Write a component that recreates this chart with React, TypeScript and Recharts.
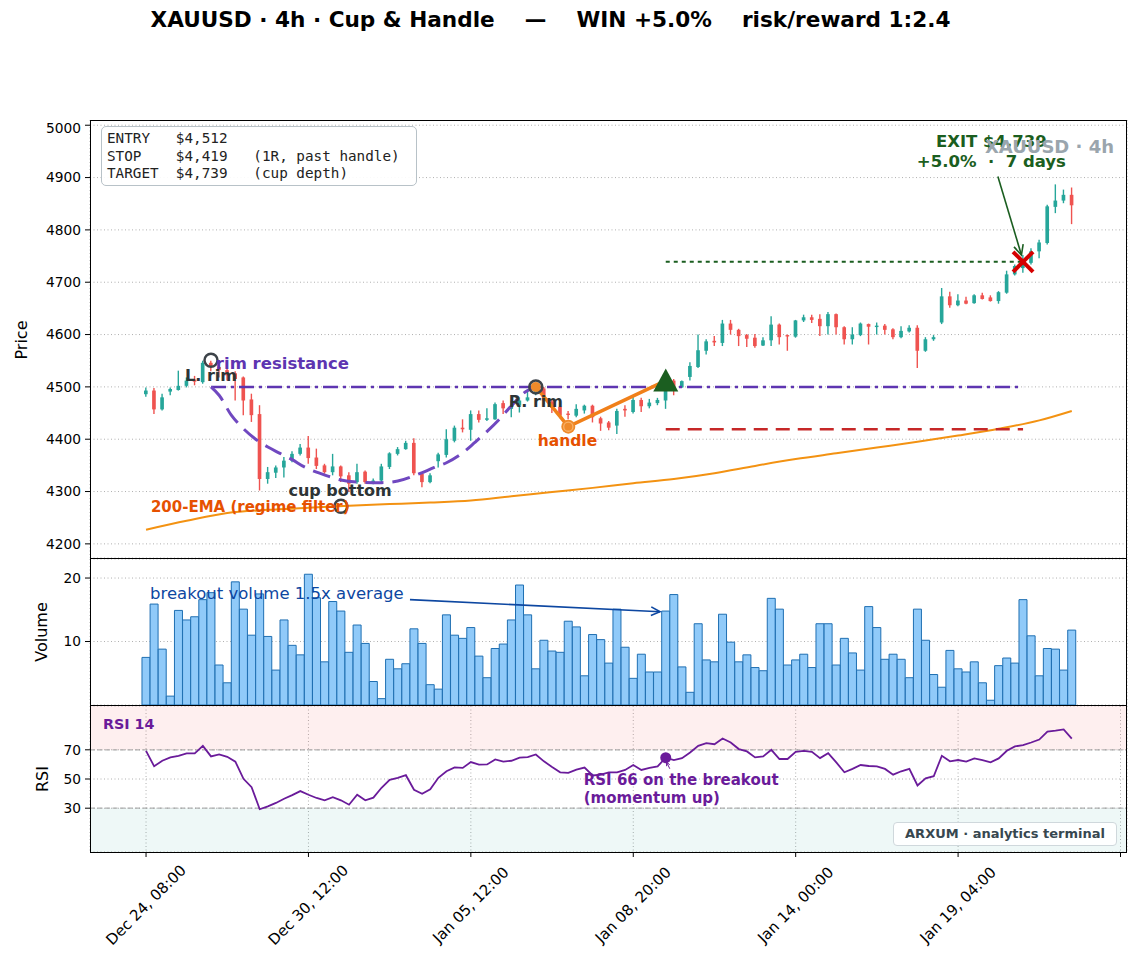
import React from 'react';
import {
  ComposedChart, Bar, Line, XAxis, YAxis, CartesianGrid,
  ReferenceLine, ReferenceDot, ReferenceArea,
} from 'recharts';

// ---- data (index = 4h bar number) ----
const opens = [
  4486, 4493, 4457, 4491, 4494, 4502, 4514, 4509, 4546, 4538, 4532, 4526, 4518, 4476, 4448, 4324, 4336, 4346, 4359, 4372,
  4384, 4365, 4350, 4337, 4348, 4331, 4318, 4338, 4317, 4321, 4347, 4372, 4381, 4393, 4334, 4318, 4358, 4370, 4397, 4422,
  4418, 4448, 4437, 4438, 4469, 4458, 4464, 4474, 4487, 4497, 4472, 4462, 4449, 4445, 4455, 4464, 4440, 4432, 4426, 4458,
  4452, 4475, 4463, 4469, 4474, 4512, 4499, 4519, 4538, 4569, 4588, 4584, 4621, 4609, 4599, 4594, 4579, 4589, 4619, 4599,
  4596, 4627, 4633, 4630, 4616, 4639, 4614, 4591, 4599, 4620, 4615, 4617, 4610, 4595, 4606, 4613, 4569, 4591, 4623, 4673,
  4656, 4665, 4660, 4675, 4671, 4664, 4680, 4715, 4727, 4737, 4759, 4775, 4844, 4856, 4867,
];
const highs = [
  4499, 4498, 4487, 4499, 4531, 4518, 4521, 4550, 4550, 4541, 4536, 4530, 4520, 4487, 4465, 4347, 4350, 4366, 4377, 4391,
  4406, 4382, 4353, 4372, 4350, 4337, 4353, 4340, 4325, 4353, 4375, 4385, 4397, 4402, 4337, 4335, 4374, 4419, 4426, 4438,
  4455, 4455, 4459, 4470, 4474, 4474, 4480, 4496, 4502, 4500, 4476, 4464, 4454, 4467, 4466, 4466, 4443, 4435, 4458, 4465,
  4484, 4479, 4477, 4479, 4496, 4515, 4512, 4547, 4600, 4591, 4597, 4628, 4628, 4611, 4601, 4601, 4595, 4635, 4621, 4600,
  4628, 4638, 4638, 4639, 4643, 4640, 4616, 4614, 4623, 4621, 4623, 4620, 4612, 4616, 4618, 4618, 4595, 4599, 4689, 4682,
  4677, 4672, 4677, 4680, 4675, 4683, 4722, 4734, 4752, 4765, 4781, 4848, 4887, 4877, 4881,
];
const lows = [
  4481, 4448, 4455, 4484, 4493, 4499, 4503, 4506, 4530, 4518, 4512, 4474, 4446, 4433, 4302, 4315, 4326, 4327, 4356, 4369,
  4353, 4343, 4334, 4331, 4318, 4299, 4315, 4315, 4314, 4318, 4343, 4369, 4380, 4331, 4308, 4316, 4346, 4365, 4394, 4413,
  4397, 4432, 4435, 4437, 4448, 4442, 4451, 4472, 4484, 4467, 4450, 4440, 4438, 4442, 4449, 4432, 4416, 4417, 4410, 4443,
  4449, 4452, 4459, 4465, 4458, 4484, 4498, 4512, 4536, 4562, 4578, 4578, 4600, 4578, 4576, 4575, 4578, 4578, 4581, 4569,
  4594, 4624, 4622, 4597, 4600, 4600, 4581, 4581, 4597, 4581, 4600, 4600, 4591, 4593, 4604, 4536, 4567, 4588, 4620, 4651,
  4654, 4658, 4659, 4667, 4663, 4659, 4678, 4713, 4718, 4734, 4746, 4772, 4832, 4851, 4811,
];
const closes = [
  4493, 4457, 4480, 4496, 4502, 4512, 4510, 4546, 4538, 4532, 4522, 4515, 4474, 4446, 4324, 4337, 4346, 4359, 4372, 4384,
  4364, 4349, 4337, 4348, 4329, 4315, 4337, 4318, 4321, 4348, 4373, 4381, 4393, 4335, 4318, 4331, 4371, 4400, 4422, 4419,
  4448, 4437, 4440, 4467, 4459, 4463, 4474, 4480, 4499, 4474, 4460, 4445, 4447, 4458, 4464, 4442, 4430, 4422, 4454, 4455,
  4475, 4463, 4470, 4475, 4493, 4499, 4511, 4540, 4570, 4587, 4585, 4621, 4609, 4597, 4592, 4578, 4589, 4619, 4595, 4597,
  4627, 4633, 4628, 4616, 4639, 4614, 4591, 4600, 4621, 4615, 4617, 4609, 4595, 4607, 4613, 4569, 4591, 4595, 4673, 4656,
  4665, 4659, 4675, 4668, 4664, 4681, 4715, 4731, 4742, 4759, 4776, 4845, 4856, 4867, 4847,
];
const volumes = [
  7.5, 15.9, 8.8, 1.4, 14.9, 13.4, 13.9, 16.6, 17.7, 6.3, 3.5, 19.4, 15.1, 11.0, 17.5, 10.8, 5.5, 13.4, 9.4, 7.9,
  20.6, 16.9, 6.8, 16.3, 14.8, 8.3, 12.6, 9.7, 3.7, 1.0, 7.2, 5.7, 6.5, 12.0, 9.7, 3.2, 2.5, 14.2, 11.0, 10.5,
  12.2, 7.7, 4.3, 8.9, 9.6, 13.4, 18.9, 14.2, 5.7, 10.2, 8.5, 8.3, 13.2, 12.3, 4.6, 11.1, 10.3, 6.6, 15.1, 9.1,
  4.2, 8.0, 5.2, 5.2, 14.8, 17.4, 6.0, 2.0, 12.8, 7.1, 6.8, 14.3, 9.9, 6.8, 7.9, 5.9, 5.4, 16.8, 15.1, 6.3,
  7.1, 8.0, 5.9, 12.8, 12.8, 6.3, 10.5, 8.2, 5.5, 15.5, 12.2, 7.2, 8.0, 7.2, 4.3, 15.1, 10.2, 4.8, 2.8, 8.6,
  5.7, 5.2, 6.8, 3.5, 0.75, 6.2, 7.4, 6.6, 16.6, 10.9, 4.6, 8.9, 8.8, 5.5, 11.8,
];
const rsi14 = [
  69.3, 58.7, 62.5, 64.8, 65.9, 67.5, 67.5, 72.7, 65.5, 66.8, 65.2, 61.9, 50.1, 44.4, 29.3, 31.3, 33.6, 36.5, 39.0, 41.7,
  39.2, 37.0, 35.4, 37.6, 35.4, 32.4, 39.2, 35.4, 37.2, 44.0, 49.4, 50.8, 52.6, 42.6, 39.9, 42.9, 50.8, 55.3, 58.0, 57.6,
  61.6, 59.8, 60.0, 63.4, 61.9, 62.5, 64.6, 65.0, 66.8, 62.1, 58.2, 54.6, 54.2, 56.4, 57.8, 52.4, 53.0, 54.6, 54.6, 56.2,
  59.6, 56.2, 57.6, 58.7, 64.6, 63.0, 64.3, 68.2, 72.7, 74.5, 73.8, 77.7, 75.0, 70.5, 68.9, 64.8, 65.5, 70.0, 63.7, 63.7,
  68.6, 69.3, 68.6, 64.3, 67.7, 61.4, 54.6, 56.9, 59.6, 58.9, 58.7, 56.9, 53.0, 55.3, 56.9, 45.6, 50.5, 51.9, 65.9, 62.1,
  63.0, 61.9, 64.1, 63.0, 61.4, 64.1, 69.3, 72.3, 73.2, 75.0, 77.0, 82.4, 83.1, 84.0, 77.7,
];
const emaIdx = [0, 5, 10, 15, 20, 25, 30, 35, 40, 45, 50, 55, 60, 65, 70, 75, 80, 85, 90, 95, 100, 105, 110, 114];
const emaVals = [4227, 4244, 4259, 4265, 4269, 4273, 4276, 4279, 4283, 4291, 4299, 4307, 4316, 4324, 4335, 4349, 4362, 4373, 4384, 4395, 4407, 4420, 4436, 4454];
const cupIdx = [8, 9, 10.5, 12, 13.5, 15, 16.5, 18, 19.5, 21, 22.5, 24, 26, 28, 29, 31, 33.5, 35.5, 37, 39, 40.5, 42, 43.5, 45, 46.5, 48];
const cupVals = [4500, 4484, 4446, 4420, 4400, 4385, 4373, 4361, 4347, 4337, 4329, 4322, 4318, 4317, 4317, 4320, 4333, 4346, 4355, 4374, 4394, 4415, 4438, 4464, 4488, 4500];
const handleIdx = [48, 52, 64];
const handleVals = [4500, 4424, 4512];
const xTicks = [0, 20, 40, 60, 80, 100, 120];
const tickLabels = ['Dec 24, 08:00', 'Dec 30, 12:00', 'Jan 05, 12:00', 'Jan 08, 20:00', 'Jan 14, 00:00', 'Jan 19, 04:00', ''];
const priceTicks = [4200, 4300, 4400, 4500, 4600, 4700, 4800, 4900, 5000];

const ENTRY = { i: 64, p: 4512 };
const EXIT = { i: 108, p: 4739 };
const STOP = 4419;
const TARGET = 4739;
const RIM = 4500;

const X_DOMAIN: [number, number] = [-6.9, 120.8];
const W = 1139;
const FONT = 'DejaVu Sans, sans-serif';
const UP = '#26a69a';
const DOWN = '#ef5350';

const Candle = (props: any) => {
  const { x, y, width, height, payload } = props;
  const { o, h, l, c } = payload;
  const col = c >= o ? UP : DOWN;
  const k = height / (h - l || 1);
  const py = (v: number) => y + (h - v) * k;
  const cx = x + width / 2;
  const top = py(Math.max(o, c));
  const bot = py(Math.min(o, c));
  return (
    <g>
      <line x1={cx} x2={cx} y1={y} y2={y + height} stroke={col} strokeWidth={1.4} />
      <rect x={x} y={top} width={width} height={Math.max(bot - top, 1.4)} fill={col} />
    </g>
  );
};

const label = (lines: string[], color: string, size: number, anchor: 'start' | 'middle' | 'end' = 'middle', weight = 700) =>
  (p: any) => (
    <text x={p.cx} y={p.cy} fill={color} fontSize={size} fontWeight={weight} fontFamily={FONT}
      textAnchor={anchor} style={{ whiteSpace: 'pre' }}>
      {lines.map((s, k) => (
        <tspan key={k} x={p.cx} dy={k === 0 ? `${0.35 - (lines.length - 1) * 0.6}em` : '1.2em'}>{s}</tspan>
      ))}
    </text>
  );

const ring = (p: any) => <circle cx={p.cx} cy={p.cy} r={6.5} fill="none" stroke="#3d4349" strokeWidth={2.5} />;

const triangle = (p: any) => (
  <polygon points={`${p.cx},${p.cy - 12} ${p.cx - 12.5},${p.cy + 11} ${p.cx + 12.5},${p.cy + 11}`} fill="#1b5e20" />
);

const cross = (p: any) => (
  <g stroke="#d50000" strokeWidth={4}>
    <line x1={p.cx - 10} y1={p.cy - 10} x2={p.cx + 10} y2={p.cy + 10} />
    <line x1={p.cx - 10} y1={p.cy + 10} x2={p.cx + 10} y2={p.cy - 10} />
  </g>
);

const arrow = (color: string, width: number, head = 10) => (p: any) => {
  const { x1, y1, x2, y2 } = p;
  const a = Math.atan2(y2 - y1, x2 - x1);
  const s = 0.45;
  const hx1 = x2 - head * Math.cos(a - s), hy1 = y2 - head * Math.sin(a - s);
  const hx2 = x2 - head * Math.cos(a + s), hy2 = y2 - head * Math.sin(a + s);
  return (
    <g stroke={color} strokeWidth={width} fill="none">
      <line x1={x1} y1={y1} x2={x2} y2={y2} />
      <polyline points={`${hx1},${hy1} ${x2},${y2} ${hx2},${hy2}`} />
    </g>
  );
};

const handleDot = (p: any) => {
  const { cx, cy, index } = p;
  if (index === 1) {
    return (
      <g key={`hd${index}`}>
        <circle cx={cx} cy={cy} r={7} fill="#ef8a2a" />
        <circle cx={cx} cy={cy} r={4.6} fill="none" stroke="#f8b26a" strokeWidth={1.3} />
      </g>
    );
  }
  if (index === 0) return <circle key={`hd${index}`} cx={cx} cy={cy} r={5} fill="#ef8a2a" />;
  return <g key={`hd${index}`} />;
};

// tick labels rotated 45°, centred under the tick
const XTick = (p: any) => {
  const { x, y, payload } = p;
  const t = tickLabels[xTicks.indexOf(payload.value)] || '';
  return (
    <text x={0} y={0} transform={`translate(${x},${y + 44}) rotate(-45)`} textAnchor="middle" dominantBaseline="central"
      fontSize={15} fontFamily={FONT} fill="#000">{t}</text>
  );
};

const yTick = { fontSize: 13.75, fill: '#000', fontFamily: FONT };
const grid = <CartesianGrid stroke="#b0b0b0" strokeDasharray="1 2.5" />;
const frame = (top: number, h: number): React.CSSProperties => ({
  position: 'absolute', left: 90, top, width: 1037, height: h, border: '1px solid #000',
  boxSizing: 'border-box', pointerEvents: 'none',
});

export default function App() {
  const candles = opens.map((o, i) => ({ i, o, h: highs[i], l: lows[i], c: closes[i], v: volumes[i], r: rsi14[i] }));
  const ema = emaIdx.map((i, k) => ({ i, p: emaVals[k] }));
  const cup = cupIdx.map((i, k) => ({ i, p: cupVals[k] }));
  const handle = handleIdx.map((i, k) => ({ i, p: handleVals[k] }));

  const xAxisHidden = (
    <XAxis type="number" dataKey="i" domain={X_DOMAIN} ticks={xTicks} allowDataOverflow
      height={0} tick={false} axisLine={false} tickLine={false} />
  );

  return (
    <div style={{ position: 'absolute', left: 0, top: 0, width: W, height: 971, background: '#fff', fontFamily: FONT, overflow: 'hidden' }}>
      <div style={{ position: 'absolute', top: 7, left: 0, width: 1101, textAlign: 'center', fontSize: 21.6, fontWeight: 700, whiteSpace: 'pre', color: '#000' }}>
        {'XAUUSD · 4h · Cup & Handle    —    WIN +5.0%    risk/reward 1:2.4'}
      </div>

      {/* price panel */}
      <div style={{ position: 'absolute', left: 0, top: 120 }}>
        <ComposedChart width={W} height={438} data={candles} margin={{ top: 0, right: 12, bottom: 0, left: 0 }}>
          {grid}
          {xAxisHidden}
          <YAxis type="number" domain={[4173, 5010]} ticks={priceTicks} allowDataOverflow width={90}
            tick={yTick} tickSize={5} tickMargin={4} axisLine={false} tickLine={{ stroke: '#000' }} />
          <Line data={ema} dataKey="p" type="monotone" stroke="#f39212" strokeWidth={2} dot={false} activeDot={false} isAnimationActive={false} />
          <ReferenceLine segment={[{ x: 8, y: RIM }, { x: EXIT.i, y: RIM }]} stroke="#5e35b1" strokeWidth={2.5} strokeDasharray="15 5 3 5" />
          <Line data={cup} dataKey="p" type="monotone" stroke="#7048c0" strokeWidth={3} strokeDasharray="18 9" dot={false} activeDot={false} isAnimationActive={false} />
          <ReferenceLine segment={[{ x: ENTRY.i, y: STOP }, { x: EXIT.i, y: STOP }]} stroke="#c62828" strokeWidth={2.5} strokeDasharray="14 8" />
          <ReferenceLine segment={[{ x: ENTRY.i, y: TARGET }, { x: EXIT.i, y: TARGET }]} stroke="#1b5e20" strokeWidth={2} strokeDasharray="4 4" />
          <Bar dataKey={(d: any) => [d.l, d.h]} shape={Candle} barSize={6} isAnimationActive={false} />
          <Line data={handle} dataKey="p" type="linear" stroke="#f0801a" strokeWidth={3.5} dot={handleDot} activeDot={false} isAnimationActive={false} />
          <ReferenceDot x={8} y={4551} shape={ring} />
          <ReferenceDot x={24} y={4272} shape={ring} />
          <ReferenceDot x={48} y={RIM} shape={ring} />
          <ReferenceDot x={ENTRY.i} y={ENTRY.p} shape={triangle} />
          <ReferenceDot x={EXIT.i} y={EXIT.p} shape={cross} />
          <ReferenceLine segment={[{ x: 104.9, y: 4902 }, { x: 107.8, y: 4752 }]} shape={arrow('#1b5e20', 1.6, 11)} />
          <ReferenceDot x={8} y={4522} shape={label(['L. rim'], '#2d3436', 16)} />
          <ReferenceDot x={8.6} y={4545} shape={label(['rim resistance'], '#5e35b1', 16.5, 'start')} />
          <ReferenceDot x={48} y={4472} shape={label(['R. rim'], '#2d3436', 16)} />
          <ReferenceDot x={23.9} y={4303} shape={label(['cup bottom'], '#2d3436', 16)} />
          <ReferenceDot x={51.9} y={4397} shape={label(['handle'], '#e65100', 15.5)} />
          <ReferenceDot x={0.6} y={4271} shape={label(['200-EMA (regime filter)'], '#e65100', 15, 'start')} />
          <ReferenceDot x={104.1} y={4951} shape={label(['EXIT $4,739', '+5.0%  ·  7 days'], '#1b5e20', 16.5)} />
        </ComposedChart>
      </div>
      <div style={frame(120, 439)} />
      <div style={{ position: 'absolute', right: 1139 - 1114, top: 136, fontSize: 18, fontWeight: 700, color: '#9aa5ad', whiteSpace: 'pre' }}>XAUUSD · 4h</div>
      <div style={{
        position: 'absolute', left: 101, top: 126, width: 316, height: 60, boxSizing: 'border-box',
        border: '1px solid #b8c2c8', borderRadius: 5, background: 'rgba(255,255,255,0.92)',
        fontFamily: 'DejaVu Sans Mono, monospace', fontSize: 14.3, lineHeight: '17.5px', whiteSpace: 'pre',
        padding: '3px 0 0 5px', color: '#222',
      }}>
        {'ENTRY   $4,512\nSTOP    $4,419   (1R, past handle)\nTARGET  $4,739   (cup depth)'}
      </div>
      <div style={{ position: 'absolute', left: 21, top: 340, transform: 'translate(-50%,-50%) rotate(-90deg)', fontSize: 16 }}>Price</div>

      {/* volume panel */}
      <div style={{ position: 'absolute', left: 0, top: 559 }}>
        <ComposedChart width={W} height={146} data={candles} barCategoryGap={0} margin={{ top: 0, right: 12, bottom: 0, left: 0 }}>
          {grid}
          {xAxisHidden}
          <YAxis type="number" domain={[0, 23]} ticks={[10, 20]} allowDataOverflow width={90}
            tick={yTick} tickSize={5} tickMargin={4} axisLine={false} tickLine={{ stroke: '#000' }} />
          <Bar dataKey="v" fill="#90caf9" stroke="#1f6fb2" strokeWidth={1} isAnimationActive={false} />
          <ReferenceLine segment={[{ x: 32.5, y: 16.6 }, { x: 63.3, y: 14.7 }]} shape={arrow('#0d47a1', 1.6, 10)} />
          <ReferenceDot x={0.5} y={17.6} shape={label(['breakout volume 1.5x average'], '#0d47a1', 16.5, 'start', 400)} />
        </ComposedChart>
      </div>
      <div style={frame(558, 148)} />
      <div style={{ position: 'absolute', left: 41, top: 632, transform: 'translate(-50%,-50%) rotate(-90deg)', fontSize: 16 }}>Volume</div>

      {/* RSI panel */}
      <div style={{ position: 'absolute', left: 0, top: 706 }}>
        <ComposedChart width={W} height={146 + 120} data={candles} margin={{ top: 0, right: 12, bottom: 0, left: 0 }}>
          <ReferenceArea y1={70} y2={100} fill="#ef5350" fillOpacity={0.09} stroke="none" />
          <ReferenceArea y1={0} y2={30} fill="#26a69a" fillOpacity={0.08} stroke="none" />
          {grid}
          <XAxis type="number" dataKey="i" domain={X_DOMAIN} ticks={xTicks} allowDataOverflow height={120}
            tick={<XTick />} tickSize={5} tickMargin={4} axisLine={false} tickLine={{ stroke: '#000' }} interval={0} />
          <YAxis type="number" domain={[0, 100]} ticks={[30, 50, 70]} allowDataOverflow width={90}
            tick={yTick} tickSize={5} tickMargin={4} axisLine={false} tickLine={{ stroke: '#000' }} />
          <ReferenceLine y={70} stroke="#9e9e9e" strokeWidth={1.3} strokeDasharray="5 2.5" strokeOpacity={0.8} />
          <ReferenceLine y={30} stroke="#9e9e9e" strokeWidth={1.3} strokeDasharray="5 2.5" strokeOpacity={0.8} />
          <Line dataKey="r" type="linear" stroke="#6a1b9a" strokeWidth={1.8} dot={false} activeDot={false} isAnimationActive={false} />
          <ReferenceDot x={ENTRY.i} y={rsi14[ENTRY.i]} r={5.5} fill="#6a1b9a" stroke="none" />
          <ReferenceLine segment={[{ x: 64.5, y: 57 }, { x: 64.1, y: 61.5 }]} shape={arrow('#6a1b9a', 1, 4)} />
          <ReferenceDot x={53.9} y={43} shape={label(['RSI 66 on the breakout', '(momentum up)'], '#6a1b9a', 15, 'start')} />
        </ComposedChart>
      </div>
      <div style={frame(705, 148)} />
      <div style={{ position: 'absolute', left: 42, top: 779, transform: 'translate(-50%,-50%) rotate(-90deg)', fontSize: 16 }}>RSI</div>
      <div style={{ position: 'absolute', left: 103, top: 716, fontSize: 14.3, fontWeight: 700, color: '#6a1b9a' }}>RSI 14</div>
      <div style={{
        position: 'absolute', left: 893, top: 822, width: 224, height: 24, boxSizing: 'border-box',
        border: '1px solid #cfd8dc', borderRadius: 4, background: 'rgba(255,255,255,0.9)',
        fontSize: 13, fontWeight: 700, color: '#37474f', textAlign: 'center', lineHeight: '22px',
      }}>ARXUM · analytics terminal</div>
    </div>
  );
}
